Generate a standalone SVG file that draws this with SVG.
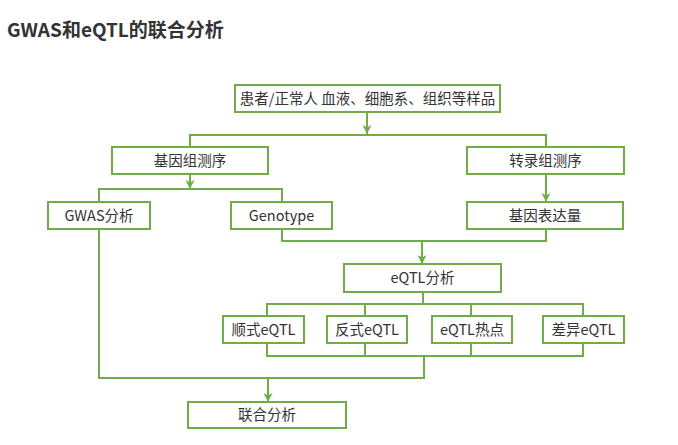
<svg xmlns="http://www.w3.org/2000/svg" width="678" height="445" viewBox="0 0 678 445">
<defs>
<marker id="ah" markerWidth="9" markerHeight="9" refX="9" refY="4.5" orient="auto" markerUnits="userSpaceOnUse">
<path d="M0,0 L9,4.5 L0,9 L2.5,4.5 z" fill="#70AD47"/>
</marker>
</defs>
<style>
.t{font-family:"Noto Sans CJK SC","Noto Sans",sans-serif;fill:#333;}
.title{font-size:19px;font-weight:bold;}
.box rect{fill:#fff;stroke:#70AD47;stroke-width:2;}
.box text{font-family:"Noto Sans CJK SC","Noto Sans",sans-serif;font-size:14.5px;fill:#333;text-anchor:middle;}
.c{fill:none;stroke:#70AD47;stroke-width:2;}
</style>
<rect width="678" height="445" fill="#fff"/>
<text class="t title" x="7" y="37">GWAS和eQTL的联合分析</text>
<g id="connectors">
<line class="c" x1="367" y1="112" x2="367" y2="134" marker-end="url(#ah)"/>
<polyline class="c" points="190,147 190,135 546,135 546,147"/>
<line class="c" x1="190" y1="174" x2="190" y2="189" marker-end="url(#ah)"/>
<polyline class="c" points="99,202 99,189 282,189 282,202"/>
<line class="c" x1="546" y1="174" x2="546" y2="202" marker-end="url(#ah)"/>
<polyline class="c" points="282,229 282,241 546,241 546,229"/>
<line class="c" x1="422" y1="241" x2="422" y2="264" marker-end="url(#ah)"/>
<polyline class="c" points="423,292 423,304"/>
<polyline class="c" points="267,316 267,304 583,304 583,316"/>
<line class="c" x1="365" y1="304" x2="365" y2="316"/>
<line class="c" x1="471" y1="304" x2="471" y2="316"/>
<polyline class="c" points="267,343 267,356 583,356 583,343"/>
<line class="c" x1="365" y1="343" x2="365" y2="356"/>
<line class="c" x1="471" y1="343" x2="471" y2="356"/>
<polyline class="c" points="424,356 424,378 99,378 99,229"/>
<line class="c" x1="268" y1="378" x2="268" y2="402" marker-end="url(#ah)"/>
</g>
<g id="n1" class="box"><rect x="235" y="85" width="265" height="27"/><text x="367.5" y="104">患者/正常人 血液、细胞系、组织等样品</text></g>
<g id="n2" class="box"><rect x="112" y="147" width="156" height="27"/><text x="190" y="166">基因组测序</text></g>
<g id="n3" class="box"><rect x="467" y="147" width="157" height="27"/><text x="545.5" y="166">转录组测序</text></g>
<g id="n4" class="box"><rect x="48" y="202" width="102" height="27"/><text x="99" y="221">GWAS分析</text></g>
<g id="n5" class="box"><rect x="231" y="202" width="101" height="27"/><text x="281.5" y="221">Genotype</text></g>
<g id="n6" class="box"><rect x="467" y="202" width="156" height="27"/><text x="545" y="221">基因表达量</text></g>
<g id="n7" class="box"><rect x="344" y="264" width="157" height="28"/><text x="422.5" y="283">eQTL分析</text></g>
<g id="n8" class="box"><rect x="223" y="316" width="81" height="27"/><text x="263.5" y="335">顺式eQTL</text></g>
<g id="n9" class="box"><rect x="327" y="316" width="80" height="27"/><text x="367" y="335">反式eQTL</text></g>
<g id="n10" class="box"><rect x="432" y="316" width="80" height="27"/><text x="472" y="335">eQTL热点</text></g>
<g id="n11" class="box"><rect x="543" y="316" width="81" height="27"/><text x="583.5" y="335">差异eQTL</text></g>
<g id="n12" class="box"><rect x="188" y="402" width="158" height="26"/><text x="267" y="420">联合分析</text></g>
</svg>
